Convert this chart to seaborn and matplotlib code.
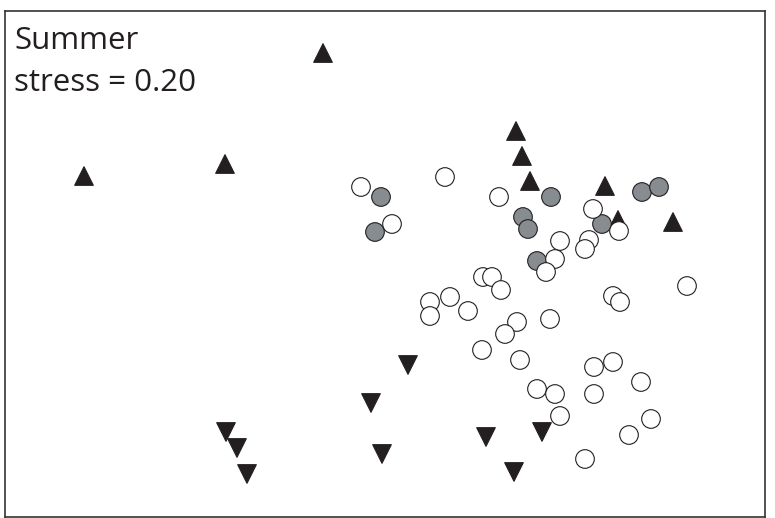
import pandas as pd
import seaborn as sns
import matplotlib.pyplot as plt

# NMDS scores (summer)
up_x = [-0.248, -1.204, -0.640, 0.524, 0.548, 0.580, 0.880, 0.932, 1.152]
up_y = [0.844, 0.352, 0.400, 0.532, 0.432, 0.332, 0.312, 0.176, 0.168]

down_x = [0.092, -0.056, -0.636, -0.592, -0.552, -0.012, 0.404, 0.628, 0.516]
down_y = [-0.404, -0.556, -0.672, -0.736, -0.840, -0.760, -0.692, -0.672, -0.832]

grey_x = [-0.016, -0.040, 0.664, 0.552, 0.572, 0.868, 1.028, 1.096, 0.608]
grey_y = [0.268, 0.128, 0.268, 0.188, 0.140, 0.160, 0.288, 0.308, 0.012]

white_x = [-0.096, 0.028, 0.240, 0.456, 0.832, 0.936, 0.700, 0.680, 0.644,
           0.816, 0.800, 0.392, 0.428, 0.464, 1.208, 0.180, 0.180, 0.260,
           0.332, 0.912, 0.940, 0.528, 0.480, 0.660, 0.388, 0.540, 0.836,
           0.912, 1.024, 0.608, 0.680, 0.836, 0.700, 1.064, 0.976, 0.800]
white_y = [0.308, 0.160, 0.348, 0.268, 0.220, 0.132, 0.092, 0.020, -0.032,
           0.096, 0.060, -0.052, -0.052, -0.104, -0.088, -0.152, -0.208, -0.132,
           -0.188, -0.128, -0.152, -0.232, -0.280, -0.220, -0.344, -0.384, -0.412,
           -0.392, -0.472, -0.500, -0.520, -0.520, -0.608, -0.620, -0.684, -0.780]

groups = ['up', 'down', 'grey', 'white']

# build one table, drawing order = row order
df = pd.concat([
    pd.DataFrame({'NMDS1': up_x, 'NMDS2': up_y, 'group': 'up'}),
    pd.DataFrame({'NMDS1': down_x, 'NMDS2': down_y, 'group': 'down'}),
    pd.DataFrame({'NMDS1': grey_x, 'NMDS2': grey_y, 'group': 'grey'}),
    pd.DataFrame({'NMDS1': white_x, 'NMDS2': white_y, 'group': 'white'}),
], ignore_index=True)

sns.set_style('white')
plt.rcParams['font.family'] = ['Open Sans', 'DejaVu Sans']

fig = plt.figure(figsize=(7.75, 5.18), dpi=100)
ax = fig.add_axes([5 / 775, 1 / 518, 760 / 775, 506 / 518])

sns.scatterplot(
    data=df, x='NMDS1', y='NMDS2', hue='group', style='group',
    hue_order=groups, style_order=groups,
    palette={'up': '#231f20', 'down': '#231f20', 'grey': '#878c91', 'white': 'white'},
    markers={'up': '^', 'down': 'v', 'grey': 'o', 'white': 'o'},
    s=180, edgecolor='#231f20', linewidth=0.8, legend=False, ax=ax,
)

ax.set_xlim(-1.52, 1.52)
ax.set_ylim(-1.012, 1.012)
ax.set_xticks([])
ax.set_yticks([])
ax.set_xlabel('')
ax.set_ylabel('')
for sp in ax.spines.values():
    sp.set_color('#333333')
    sp.set_linewidth(1.2)

ax.text(0.012, 0.924, 'Summer', transform=ax.transAxes, fontsize=22.5,
        color='#231f20', va='baseline', ha='left')
ax.text(0.012, 0.8425, 'stress = 0.20', transform=ax.transAxes, fontsize=22.5,
        color='#231f20', va='baseline', ha='left')

plt.savefig('out.png', dpi=100)
